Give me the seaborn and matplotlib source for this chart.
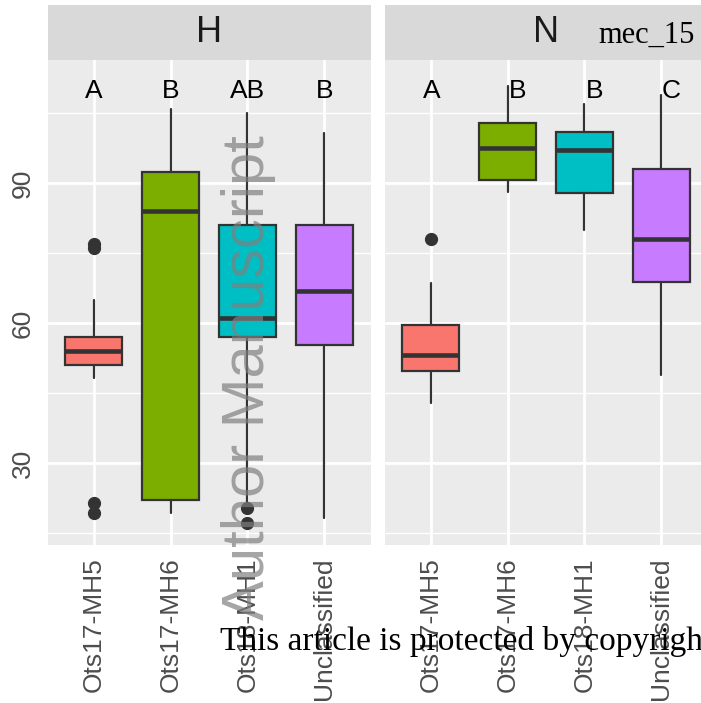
import matplotlib
matplotlib.use("Agg")
import matplotlib.pyplot as plt
import seaborn as sns

# ---------------- data ----------------
categories = ["Ots17-MH5", "Ots17-MH6", "Ots18-MH1", "Unclassified"]
panels = ["H", "N"]
box_colors = ["#F8766D", "#7CAE00", "#00BFC4", "#C77CFF"]

# panel H summary statistics
H_whislo = [48.2, 19.3, 21.0, 18.2]
H_q1     = [51.1, 22.1, 57.1, 55.3]
H_med    = [54.1, 84.1, 61.2, 67.0]
H_q3     = [57.1, 92.5, 81.1, 81.1]
H_whishi = [65.0, 105.8, 105.0, 100.8]
H_fliers = [[76.9, 76.1, 21.5, 19.3], [], [20.4, 17.3], []]
H_letters = ["A", "B", "AB", "B"]

# panel N summary statistics
N_whislo = [42.9, 88.1, 80.0, 48.9]
N_q1     = [49.8, 90.6, 87.9, 68.9]
N_med    = [53.3, 97.5, 97.2, 78.1]
N_q3     = [59.7, 102.8, 101.0, 93.1]
N_whishi = [68.7, 110.8, 106.9, 108.8]
N_fliers = [[78.1], [], [], []]
N_letters = ["A", "B", "B", "C"]

y_major = [30, 60, 90]
y_minor = [15, 45, 75, 105]

# ---------------- style ----------------
sns.set_theme(style="darkgrid")
plt.rcParams["font.family"] = ["Liberation Sans", "DejaVu Sans"]

W, H = 701, 703
fig = plt.figure(figsize=(W / 100, H / 100), dpi=100)
fig.patch.set_facecolor("white")

panel_bottom = 1 - 545 / H
panel_h = 485 / H
panel_w = 323 / W
lefts = [47.5 / W, 384.5 / W]

stats_sets = [
    (H_whislo, H_q1, H_med, H_q3, H_whishi, H_fliers, H_letters, [0, 0, 0, 0]),
    (N_whislo, N_q1, N_med, N_q3, N_whishi, N_fliers, N_letters, [0.01, 0.13, 0.13, 0.13]),
]

edge = "#333333"
for p, (name, left) in enumerate(zip(panels, lefts)):
    wl, q1, md, q3, wh, fl, letters, offs = stats_sets[p]
    ax = fig.add_axes([left, panel_bottom, panel_w, panel_h])
    ax.set_facecolor("#EBEBEB")
    stats = []
    for i, c in enumerate(categories):
        stats.append(dict(label=c, whislo=wl[i], q1=q1[i], med=md[i],
                          q3=q3[i], whishi=wh[i], fliers=fl[i]))
    bp = ax.bxp(stats, positions=range(len(categories)), widths=0.75,
                patch_artist=True, showcaps=False,
                boxprops=dict(edgecolor=edge, linewidth=1.6),
                medianprops=dict(color=edge, linewidth=3.3, solid_capstyle="butt"),
                whiskerprops=dict(color=edge, linewidth=1.6),
                flierprops=dict(marker="o", markerfacecolor=edge,
                                markeredgecolor=edge, markersize=8.5))
    for patch, col in zip(bp["boxes"], box_colors):
        patch.set_facecolor(col)
    for i, t in enumerate(letters):
        ax.text(i + offs[i], 108.2, t, ha="center", va="baseline",
                fontsize=19, color="black")
    ax.set_xlim(-0.6, len(categories) - 0.4)
    ax.set_ylim(12.5, 116.4)
    ax.set_yticks(y_major)
    ax.set_yticks(y_minor, minor=True)
    ax.set_xticks(range(len(categories)))
    ax.set_xticklabels(categories, rotation=90, ha="center", va="top")
    ax.grid(which="major", color="white", linewidth=2.0)
    ax.grid(which="minor", axis="y", color="white", linewidth=1.0)
    ax.grid(which="minor", axis="x", visible=False)
    ax.set_axisbelow(True)
    for s in ax.spines.values():
        s.set_visible(False)
    ax.tick_params(axis="both", which="major", length=5, width=1.5,
                   color=edge, labelsize=19, labelcolor="#4D4D4D", pad=4)
    ax.tick_params(axis="both", which="minor", length=0)
    if p == 0:
        for lab in ax.get_yticklabels():
            lab.set_rotation(90)
            lab.set_va("center")
    else:
        ax.tick_params(axis="y", which="major", length=0, labelleft=False)
    ax.set_xlabel("")
    ax.set_ylabel("")

    # facet strip
    sx = fig.add_axes([left, 1 - 60 / H, panel_w, 55 / H])
    sx.set_facecolor("#D9D9D9")
    sx.set_xticks([])
    sx.set_yticks([])
    for s in sx.spines.values():
        s.set_visible(False)
    sx.grid(False)
    sx.text(0.5, 0.5, name, ha="center", va="center", fontsize=26,
            color="#1A1A1A", transform=sx.transAxes)

# overlays present in the reference image
fig.text(248 / W, 1 - 378 / H, "Author Manuscript", rotation=90,
         ha="center", va="center", fontsize=43, color="#7F7F7F", alpha=0.7,
         family=["Liberation Sans", "DejaVu Sans"])
fig.text(220 / W, 1 - 650 / H, "This article is protected by copyright. All rights reserved",
         ha="left", va="baseline", fontsize=24, color="black",
         family=["Liberation Serif", "DejaVu Serif"])
fig.text(598 / W, 1 - 43 / H, "mec_15", ha="left", va="baseline",
         fontsize=22, color="black", family=["Liberation Serif", "DejaVu Serif"])

fig.savefig("out.png", dpi=100)
